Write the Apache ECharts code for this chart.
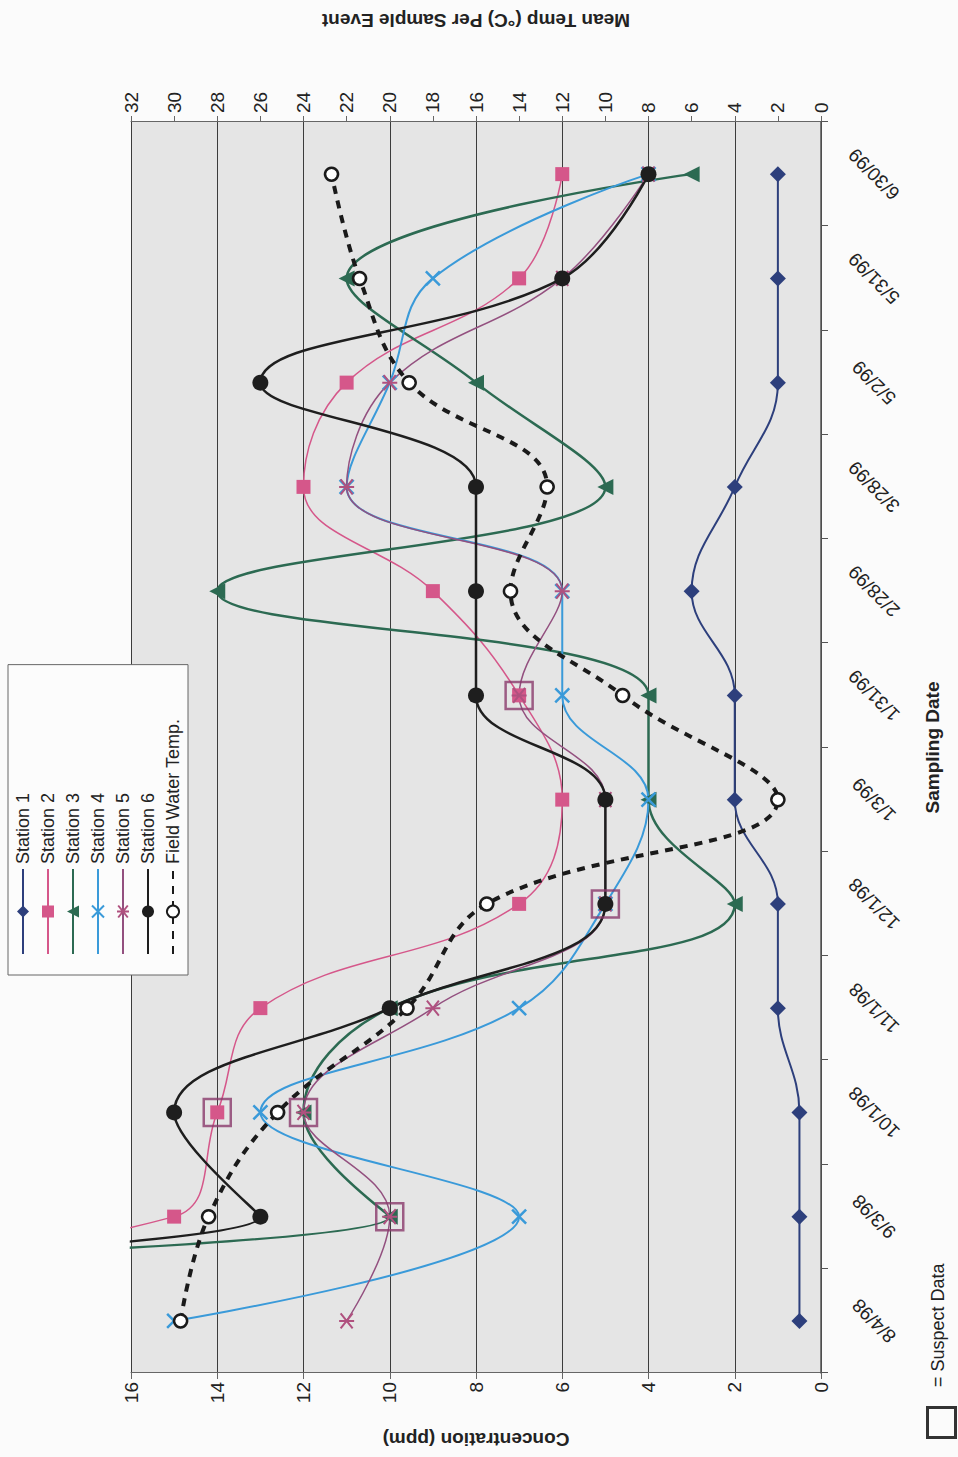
<!DOCTYPE html>
<html><head><meta charset="utf-8">
<script src="https://cdn.jsdelivr.net/npm/echarts@6/dist/echarts.min.js"></script>
<style>
html,body{margin:0;padding:0;width:958px;height:1457px;overflow:hidden;background:#fbfbfb;}
#chart{position:absolute;left:0;top:1457px;width:1457px;height:958px;transform-origin:0 0;transform:rotate(-90deg);}
</style></head><body><div id="chart"></div>
<script>
const dates = ['8/4/98','9/3/98','10/1/98','11/1/98','12/1/98','1/3/99','1/31/99','2/28/99','3/28/99','5/2/99','5/31/99','6/30/99'];
const station1 = [0.5,0.5,0.5,1,1,2,2,3,2,1,1,1];
const station2 = [32,15,14,13,7,6,7,9,12,11,7,6];
const station3 = [120,10,12,10,2,4,4,14,5,8,11,3];
const station4 = [15,7,13,7,5,4,6,6,11,10,9,4];
const station5 = [11,10,12,9,5,5,7,6,11,10,6,4];
const station6 = [100,13,15,10,5,5,8,8,8,13,6,4];
const fieldWaterTemp = [29.7,28.4,25.2,19.2,15.5,2.0,9.2,14.4,12.7,19.1,21.4,22.7];
const suspectDates = ['9/3/98','10/1/98','10/1/98','12/1/98','1/31/99'];
const suspectValues = [10,14,12,5,7];
const concTicks = [0,2,4,6,8,10,12,14,16];
const tempTicks = [0,2,4,6,8,10,12,14,16,18,20,22,24,26,28,30,32];

const FONT = '"Liberation Sans", Arial, sans-serif';
const SMOOTH = 0.4;
const X_PATH = 'path://M0,0L10,10M10,0L0,10';
const AST_PATH = 'path://M1,1L9,9M9,1L1,9M5,0L5,10';

function line(name, data, color, width, symbol, size, opts) {
  return Object.assign({
    name, type: 'line', data, smooth: SMOOTH, symbol, symbolSize: size,
    lineStyle: { color, width },
    itemStyle: { color },
    clip: true, animation: false
  }, opts || {});
}

const chart = echarts.init(document.getElementById('chart'), null, { renderer: 'svg' });
chart.setOption({
  backgroundColor: '#fbfbfb',
  animation: false,
  textStyle: { fontFamily: FONT, color: '#222' },
  grid: { left: 84, right: 122, top: 131, bottom: 137, show: true, backgroundColor: '#e5e5e5', borderWidth: 0 },
  legend: {
    data: ['Station 1','Station 2','Station 3','Station 4','Station 5','Station 6','Field Water Temp.'],
    orient: 'vertical', left: 482, top: 8,
    padding: [6, 54, 6, 20],
    itemWidth: 85, itemHeight: 15, itemGap: 7,
    textStyle: { fontSize: 18, fontFamily: FONT, color: '#222' },
    borderColor: '#666', borderWidth: 1, backgroundColor: '#fcfcfc'
  },
  xAxis: {
    type: 'category', data: dates, boundaryGap: true,
    axisLine: { lineStyle: { color: '#555', width: 1.5 } },
    axisTick: { show: true, length: 7, lineStyle: { color: '#555' } },
    axisLabel: { rotate: 45, align: 'center', verticalAlign: 'middle', margin: 53, fontSize: 19, color: '#222', fontFamily: FONT },
    name: 'Sampling Date', nameLocation: 'middle', nameGap: 102,
    nameTextStyle: { fontWeight: 'bold', fontSize: 19, fontFamily: FONT, color: '#222' }
  },
  yAxis: [{
    type: 'value', position: 'left',
    min: concTicks[0], max: concTicks[concTicks.length - 1], interval: concTicks[1] - concTicks[0],
    axisLine: { show: true, lineStyle: { color: '#666' } },
    axisTick: { show: true, length: 6, lineStyle: { color: '#666' } },
    axisLabel: { fontSize: 19, margin: 9, color: '#222', fontFamily: FONT },
    splitLine: { show: true, lineStyle: { color: '#3c3c3c', width: 1 } },
    name: 'Concentration (ppm)', nameLocation: 'middle', nameRotate: 90, nameGap: 57,
    nameTextStyle: { fontWeight: 'bold', fontSize: 19, fontFamily: FONT, color: '#222' }
  }, {
    type: 'value', position: 'right',
    min: tempTicks[0], max: tempTicks[tempTicks.length - 1], interval: tempTicks[1] - tempTicks[0],
    axisLine: { show: true, lineStyle: { color: '#666' } },
    axisTick: { show: true, length: 6, lineStyle: { color: '#666' } },
    axisLabel: { fontSize: 19, margin: 9, color: '#222', fontFamily: FONT },
    splitLine: { show: false },
    name: 'Mean Temp (\u00B0C) Per Sample Event', nameLocation: 'middle', nameRotate: 90, nameGap: 92,
    nameTextStyle: { fontWeight: 'bold', fontSize: 19, fontFamily: FONT, color: '#222' }
  }],
  series: [
    line('Station 1', station1, '#2d3f7c', 2, 'diamond', 16),
    line('Station 2', station2, '#d5578a', 1.5, 'rect', 14),
    line('Station 3', station3, '#2c6a52', 2.5, 'triangle', 16),
    line('Station 4', station4, '#3a9ad9', 2, X_PATH, 14, { itemStyle: { color: '#3a9ad9', borderColor: '#3a9ad9', borderWidth: 2.5 } }),
    line('Station 5', station5, '#93507f', 1.5, AST_PATH, 15, { itemStyle: { color: '#93507f', borderColor: '#b0517f', borderWidth: 2 } }),
    line('Station 6', station6, '#1e1e1e', 2.5, 'circle', 16),
    line('Field Water Temp.', fieldWaterTemp, '#1a1a1a', 4, 'circle', 13, {
      yAxisIndex: 1,
      lineStyle: { color: '#1a1a1a', width: 4, type: [8, 7], cap: 'butt' },
      itemStyle: { color: '#ffffff', borderColor: '#1a1a1a', borderWidth: 2.5 }
    }),
    {
      name: 'Suspect Data', type: 'scatter', animation: false, z: 5,
      data: suspectDates.map((d, i) => [d, suspectValues[i]]),
      symbol: 'rect', symbolSize: 27,
      itemStyle: { color: 'rgba(0,0,0,0)', borderColor: '#8a3a6c', borderWidth: 2.5 }
    }
  ],
  graphic: [
    { type: 'rect', left: 17, top: 925, shape: { width: 30, height: 28 }, style: { fill: 'none', stroke: '#333', lineWidth: 3 } },
    { type: 'text', left: 70, top: 929, style: { text: '= Suspect Data', fontSize: 18, fontFamily: FONT, fill: '#222' } }
  ]
});
</script></body></html>
